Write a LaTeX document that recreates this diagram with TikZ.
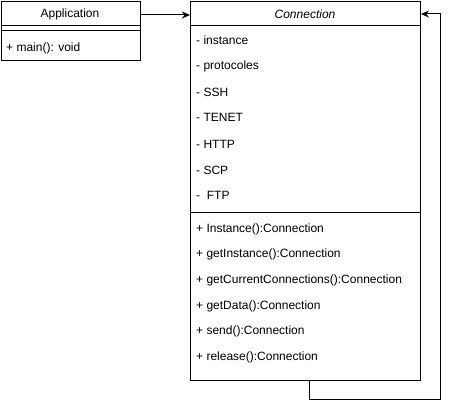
\documentclass[tikz,border=0pt]{standalone}
\usepackage{fontspec}
\setmainfont{Liberation Sans}
\usetikzlibrary{arrows.meta}
\begin{document}
\begin{tikzpicture}[x=1pt,y=-1pt,
  every node/.style={font=\fontsize{12}{14}\selectfont},
  box/.style={draw,line width=1pt,rectangle,inner sep=0pt,anchor=north west},
  member/.style={anchor=west,inner sep=0pt},
  conn/.style={line width=1pt,-{Stealth[length=8pt,width=7pt]}}]
\useasboundingbox (0,0) rectangle (449,409);
% Application
\node[box,minimum width=139pt,minimum height=59pt] (app) at (0.5,1) {};
\draw[line width=1pt] (0.5,26) -- (139.5,26);
\draw[line width=1pt] (0.5,30.5) -- (139.5,30.5);
\node (apptitle) at (70,14) {Application};
\node[member] (m0) at (6,48) {+ main(): void};
% Connection
\node[box,minimum width=230pt,minimum height=379pt] (con) at (190,1) {};
\draw[line width=1pt] (190,26) -- (420,26);
\draw[line width=1pt] (190,212.5) -- (420,212.5);
\node (contitle) at (305,14) {\itshape Connection};
\node[member] (a1) at (196,40) {- instance};
\node[member] (a2) at (196,66) {- protocoles};
\node[member] (a3) at (196,92) {- SSH};
\node[member] (a4) at (196,117) {- TENET};
\node[member] (a5) at (196,144) {- HTTP};
\node[member] (a6) at (196,170) {- SCP};
\node[member] (a7) at (196,195) {-\ \ FTP};
\node[member] (o1) at (196,229) {+ Instance():Connection};
\node[member] (o2) at (196,254) {+ getInstance():Connection};
\node[member] (o3) at (196,280) {+ getCurrentConnections():Connection};
\node[member] (o4) at (196,306) {+ getData():Connection};
\node[member] (o5) at (196,331) {+ send():Connection};
\node[member] (o6) at (196,357) {+ release():Connection};
% connectors
\draw[conn] (app.east |- 0,15) -- (con.west |- 0,15);
\coordinate (l1) at (309.5,399.5);
\coordinate (l2) at (440,399.5);
\coordinate (l3) at (440,14);
\draw[conn] (con.south -| l1) -- (l1) -- (l2) -- (l3) -- (con.east |- l3);
\end{tikzpicture}
\end{document}
